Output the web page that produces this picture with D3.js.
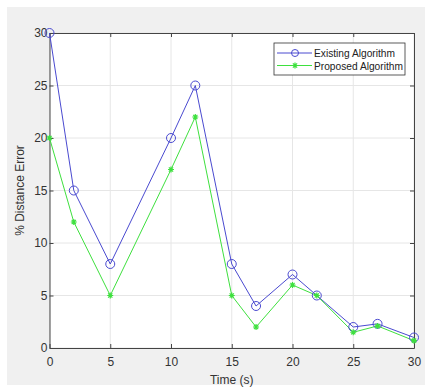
<!DOCTYPE html>
<html>
<head>
<meta charset="utf-8">
<script src="https://cdnjs.cloudflare.com/ajax/libs/d3/7.8.5/d3.min.js"></script>
<style>
  body { margin: 0; background: #fff; }
  text { font-family: "Liberation Sans", Arial, sans-serif; }
</style>
</head>
<body>
<div id="chart"></div>
<script>
// data
var time = [0, 2, 5, 10, 12, 15, 17, 20, 22, 25, 27, 30];
var existing = [30, 15, 8, 20, 25, 8, 4, 7, 5, 2, 2.3, 1];
var proposed = [20, 12, 5, 17, 22, 5, 2, 6, 5, 1.5, 2.1, 0.7];
var xTicks = [0, 5, 10, 15, 20, 25, 30];
var yTicks = [0, 5, 10, 15, 20, 25, 30];

var W = 425, H = 388;
var m = {left: 49.5, right: 11, top: 33, bottom: 40};

var svg = d3.select("#chart").append("svg")
  .attr("width", W).attr("height", H);

// grey figure background
svg.append("rect").attr("x", 7).attr("y", 7).attr("width", W - 7).attr("height", 378)
  .attr("fill", "#f0f0f0");

var x = d3.scaleLinear().domain([0, 30]).range([m.left, W - m.right]);
var y = d3.scaleLinear().domain([0, 30]).range([H - m.bottom, m.top]);

svg.append("rect")
  .attr("x", x(0)).attr("y", y(30))
  .attr("width", x(30) - x(0)).attr("height", y(0) - y(30))
  .attr("fill", "#fff");

// grid
svg.append("g").selectAll("line").data(xTicks).enter().append("line")
  .attr("x1", d => x(d)).attr("x2", d => x(d))
  .attr("y1", y(0)).attr("y2", y(30))
  .attr("stroke", "#e6e6e6").attr("stroke-width", 1);
svg.append("g").selectAll("line").data(yTicks).enter().append("line")
  .attr("y1", d => y(d)).attr("y2", d => y(d))
  .attr("x1", x(0)).attr("x2", x(30))
  .attr("stroke", "#e6e6e6").attr("stroke-width", 1);

// axes, ticks inward like matlab
var tl = 4;
function styleAxis(g) {
  g.selectAll("path").attr("stroke", "#444");
  g.selectAll("line").attr("stroke", "#444");
  g.selectAll("text").attr("fill", "#333").style("font-size", "12px");
}
svg.append("g").attr("transform", "translate(0," + y(0) + ")")
  .call(d3.axisBottom(x).tickValues(xTicks).tickSizeInner(-tl).tickSizeOuter(0).tickPadding(9))
  .call(styleAxis);
svg.append("g").attr("transform", "translate(0," + y(30) + ")")
  .call(d3.axisTop(x).tickValues(xTicks).tickSizeInner(-tl).tickSizeOuter(0).tickFormat(""))
  .call(styleAxis);
svg.append("g").attr("transform", "translate(" + x(0) + ",0)")
  .call(d3.axisLeft(y).tickValues(yTicks).tickSizeInner(-tl).tickSizeOuter(0).tickPadding(2))
  .call(styleAxis);
svg.append("g").attr("transform", "translate(" + x(30) + ",0)")
  .call(d3.axisRight(y).tickValues(yTicks).tickSizeInner(-tl).tickSizeOuter(0).tickFormat(""))
  .call(styleAxis);

// axis labels
svg.append("text").attr("x", (x(0) + x(30)) / 2).attr("y", 384)
  .attr("text-anchor", "middle").attr("fill", "#333").style("font-size", "12px")
  .text("Time (s)");
svg.append("text").attr("transform", "translate(24," + (y(0) + y(30)) / 2 + ") rotate(-90)")
  .attr("text-anchor", "middle").attr("fill", "#333").style("font-size", "12px")
  .text("% Distance Error");

var blue = "#4a4ad0", green = "#3ee03e";
var line = d3.line().x(d => x(d[0])).y(d => y(d[1]));
var exData = time.map((t, i) => [t, existing[i]]);
var prData = time.map((t, i) => [t, proposed[i]]);

svg.append("path").datum(exData).attr("d", line)
  .attr("fill", "none").attr("stroke", blue).attr("stroke-width", 1);
svg.append("path").datum(prData).attr("d", line)
  .attr("fill", "none").attr("stroke", green).attr("stroke-width", 1);

svg.append("g").selectAll("circle").data(exData).enter().append("circle")
  .attr("cx", d => x(d[0])).attr("cy", d => y(d[1])).attr("r", 4.5)
  .attr("fill", "none").attr("stroke", blue).attr("stroke-width", 1);

function starPath(cx, cy, r) {
  var p = "";
  for (var k = 0; k < 4; k++) {
    var a = k * Math.PI / 4;
    p += "M" + (cx - r * Math.cos(a)) + "," + (cy - r * Math.sin(a)) +
         "L" + (cx + r * Math.cos(a)) + "," + (cy + r * Math.sin(a));
  }
  return p;
}
svg.append("g").selectAll("path").data(prData).enter().append("path")
  .attr("d", d => starPath(x(d[0]), y(d[1]), 3))
  .attr("fill", "none").attr("stroke", green).attr("stroke-width", 1.2);

// legend
var lg = svg.append("g").attr("transform", "translate(274,43)");
lg.append("rect").attr("width", 131).attr("height", 32)
  .attr("fill", "#fff").attr("stroke", "#333").attr("stroke-width", 0.8);
var items = [{name: "Existing Algorithm", c: blue, m: "o"}, {name: "Proposed Algorithm", c: green, m: "*"}];
items.forEach(function (it, i) {
  var cy = 10 + i * 12.5;
  lg.append("line").attr("x1", 3).attr("x2", 38).attr("y1", cy).attr("y2", cy)
    .attr("stroke", it.c).attr("stroke-width", 1);
  if (it.m === "o") {
    lg.append("circle").attr("cx", 21).attr("cy", cy).attr("r", 3.5)
      .attr("fill", "none").attr("stroke", it.c);
  } else {
    lg.append("path").attr("d", starPath(21, cy, 3)).attr("stroke", it.c).attr("stroke-width", 1.2);
  }
  lg.append("text").attr("x", 40).attr("y", cy + 4).attr("fill", "#222")
    .style("font-size", "10.2px").text(it.name);
});
</script>
</body>
</html>
